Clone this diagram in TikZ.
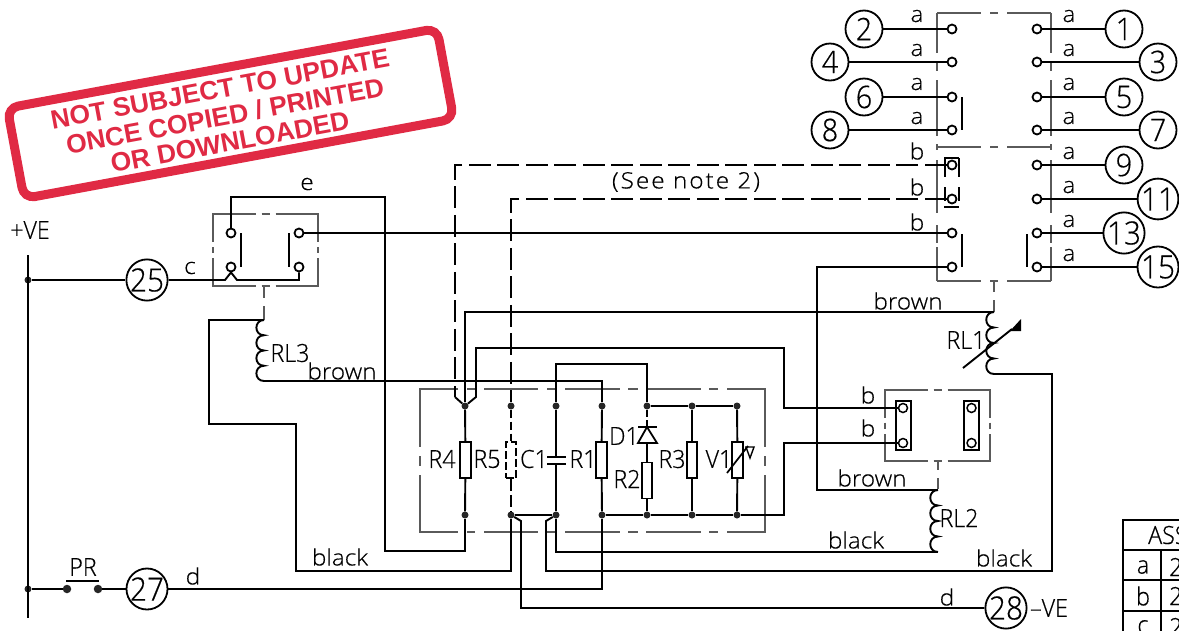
\documentclass[tikz,border=0pt]{standalone}
\usepackage{fontspec}
\setmainfont{Liberation Sans}
\newfontfamily\cad[FakeStretch=0.93,FakeBold=0.5]{Open Sans Light}
\newfontfamily\cadlow[FakeStretch=1.08,FakeBold=0.5]{Open Sans Light}
\newfontfamily\stampfont{Liberation Sans}[BoldFont={Liberation Sans Bold}]
\definecolor{stampred}{HTML}{E02A44}
\definecolor{boxgray}{HTML}{5A5A5A}
\tikzset{
  wire/.style={line width=1.9pt,line join=miter},
  dwire/.style={line width=1.9pt,dash pattern=on 22pt off 6.5pt},
  thinbox/.style={line width=1.1pt,draw=boxgray},
  term/.style={circle,draw,line width=1.8pt,fill=white,minimum size=9pt,inner sep=0pt},
  jun/.style={circle,fill=black!85,draw=none,minimum size=7pt,inner sep=0pt},
  numc/.style={circle,draw,line width=1.8pt,fill=white,minimum size=37pt,inner sep=0pt,font=\cad\fontsize{31}{31}\selectfont},
  nump/.style={numc,font=\cad\fontsize{32}{32}\selectfont},
  res/.style={rectangle,draw,line width=1.8pt,fill=white,minimum width=10.5pt,minimum height=36pt,inner sep=0pt},
  dres/.style={res,dash pattern=on 8pt off 3pt},
  lbl/.style={inner sep=0pt,font=\cad\fontsize{25}{25}\selectfont},
  low/.style={inner sep=0pt,font=\cadlow\fontsize{22.5}{22.5}\selectfont},
  stamptext/.style={inner sep=0pt,text=stampred,rotate=10.5,font=\stampfont\bfseries\fontsize{26.4}{26.4}\selectfont},
  cbar/.style={line width=2pt},
}
% dashed outline: long, gap, short centre dash, gap, long on every side
\newcommand{\dbox}[4]{%
  \draw[thinbox] ({(#1+#3)/2-10},#2) -- (#1,#2) -- (#1,{(#2+#4)/2-8});
  \draw[thinbox] ({(#1+#3)/2+10},#2) -- (#3,#2) -- (#3,{(#2+#4)/2-8});
  \draw[thinbox] ({(#1+#3)/2-10},#4) -- (#1,#4) -- (#1,{(#2+#4)/2+8});
  \draw[thinbox] ({(#1+#3)/2+10},#4) -- (#3,#4) -- (#3,{(#2+#4)/2+8});
  \draw[thinbox] ({(#1+#3)/2-4},#2) -- ({(#1+#3)/2+4},#2);
  \draw[thinbox] ({(#1+#3)/2-4},#4) -- ({(#1+#3)/2+4},#4);
  \draw[thinbox] (#1,{(#2+#4)/2-3}) -- (#1,{(#2+#4)/2+3});
  \draw[thinbox] (#3,{(#2+#4)/2-3}) -- (#3,{(#2+#4)/2+3});}
% coil of four bumps on the left of x=#1 from y=#2, bump height #3
\newcommand{\coilshape}[3]{%
  \draw[wire] (#1,#2)
   \foreach \i in {0,1,2,3}{ .. controls ({#1-1.33*#3/2},{#2+\i*#3}) and ({#1-1.33*#3/2},{#2+(\i+1)*#3}) .. (#1,{#2+(\i+1)*#3}) };}
\begin{document}
\begin{tikzpicture}[x=1pt,y=-1pt]
\useasboundingbox (0,0) rectangle (1179,630);
\clip (0,0) rectangle (1179,630);
\fill[white] (0,0) rectangle (1179,630);

% ---- dashed outlines
\dbox{213}{214}{318}{286}
\dbox{885}{390}{990}{461}
% main box
\foreach \yy in {389,532}{
  \draw[thinbox] (467,\yy) -- (475,\yy) (484,\yy) -- (538,\yy) (547,\yy) -- (557,\yy) (565,\yy) -- (620,\yy) (628,\yy) -- (638,\yy) (646,\yy) -- (701,\yy) (709,\yy) -- (718,\yy);}
\draw[thinbox] (458,389) -- (420,389) -- (420,447) (420,456) -- (420,466) (420,475) -- (420,532) -- (458,532);
\draw[thinbox] (727,389) -- (765,389) -- (765,447) (765,456) -- (765,466) (765,475) -- (765,532) -- (727,532);
% upper right box
\foreach \yy in {13,147,281}{
  \draw[thinbox] (937,\yy) -- (981,\yy) (990,\yy) -- (998,\yy) (1007,\yy) -- (1051,\yy);}
\draw[thinbox] (937,13) -- (937,53) (937,62) -- (937,71) (937,80) -- (937,136) (937,144) -- (937,150) (937,160) -- (937,213) (937,225) -- (937,243) (937,247) -- (937,281);
\draw[thinbox] (1051,13) -- (1051,53) (1051,62) -- (1051,71) (1051,80) -- (1051,136) (1051,144) -- (1051,150) (1051,160) -- (1051,213) (1051,225) -- (1051,243) (1051,247) -- (1051,281);
% relay ticks
\draw[thinbox] (264,287) -- (264,298);
\draw[thinbox] (264,306) -- (264,320);
\draw[thinbox] (938,461) -- (938,470);
\draw[thinbox] (938,478) -- (938,489);
\draw[thinbox] (994,281) -- (994,292);
\draw[thinbox] (994,300) -- (994,312);

% ---- terminals upper right
\foreach \nm/\yy in {1/29,2/62,3/97,4/130,5/165,6/199,7/233,8/267}{
  \node[term] (L\nm) at (952,\yy) {};
  \node[term] (Q\nm) at (1037,\yy) {};}
% numbered circles
\node[numc] (n2) at (864,29) {2};
\node[numc] (n4) at (830,62) {4};
\node[numc] (n6) at (864,97) {6};
\node[numc] (n8) at (830,130) {8};
\node[numc] (n1) at (1124,29) {1};
\node[numc] (n3) at (1158,62) {3};
\node[numc] (n5) at (1124,97) {5};
\node[numc] (n7) at (1158,130) {7};
\node[numc] (n9) at (1124,165) {9};
\node[nump] (n11) at (1158,199) {11};
\node[nump] (n13) at (1124,233) {13};
\node[nump] (n15) at (1158,267) {15};
\node[nump] (n25) at (147,280) {25};
\node[nump] (n27) at (147,589) {27};
\node[nump] (n28) at (1006,608) {28};
\draw[wire] (n2) -- (L1);
\draw[wire] (n4) -- (L2);
\draw[wire] (n6) -- (L3);
\draw[wire] (n8) -- (L4);
\draw[wire] (n1) -- (Q1);
\draw[wire] (n3) -- (Q2);
\draw[wire] (n5) -- (Q3);
\draw[wire] (n7) -- (Q4);
\draw[wire] (n9) -- (Q5);
\draw[wire] (n11) -- (Q6);
\draw[wire] (n13) -- (Q7);
\draw[wire] (n15) -- (Q8);
% contact bars
\draw[cbar] (962,97) -- (962,130);
\draw[cbar] (962,234) -- (962,267);
\draw[cbar] (1027,234) -- (1027,267);
\draw[cbar,line width=1.6pt] (944,158) -- (959,158) (944,207) -- (959,207)
  (945,158) -- (945,177) (959,158) -- (959,177) (945,187) -- (945,201) (959,187) -- (959,201);

% ---- relay RL3 contacts
\node[term] (A1) at (231,233) {};
\node[term] (A2) at (231,267) {};
\node[term] (A3) at (299,233) {};
\node[term] (A4) at (299,267) {};
\draw[cbar] (241,233) -- (241,267);
\draw[cbar] (289,233) -- (289,267);

% ---- relay RL2 contacts
\draw[line width=2pt] (896,401) rectangle (911,450);
\draw[line width=2pt] (964,401) rectangle (979,450);
\node[term,line width=1.5pt] (B1) at (903,408) {};
\node[term,line width=1.5pt] (B2) at (903,443) {};
\node[term,line width=1.5pt] (B3) at (971.5,408) {};
\node[term,line width=1.5pt] (B4) at (971.5,443) {};

% ---- junctions
\foreach \nm/\xx/\yy in {jt4/465/406,jt5/511/406,jtc/556/406,jt1/602/406,jtd/647/406,jt3/692/406,jtv/737/406,
  jb4/465/515,jb5/511/515,jbc/556/515,jb1/602/515,jbd/647/515,jb3/692/515,jbv/737/515,jp1/28/280,jp2/28/589}{
  \node[jun] (\nm) at (\xx,\yy) {};}
\node[jun,minimum size=8.5pt] (pr1) at (67,589) {};
\node[jun,minimum size=8.5pt] (pr2) at (98,589) {};
\coordinate (bt) at (28,255);
\coordinate (bb) at (28,618);
\draw[wire] (bt) -- (bb);
\draw[cbar] (66,581) -- (99,581);
\draw[wire] (jp2) -- (pr1);
\draw[wire] (pr2) -- (n27);

% ---- components
\node[res] (R4) at (465.5,460) {};
\node[dres] (R5) at (511,460) {};
\node[res] (R1) at (601.5,460) {};
\node[res] (R3) at (692,460) {};
\node[res] (V1) at (737.5,460) {};
\node[res] (R2) at (647,480.5) {};
\draw[wire] (jt4) -- (R4);
\draw[wire] (R4) -- (jb4);
\draw[wire] (jt1) -- (R1);
\draw[wire] (R1) -- (jb1);
\draw[wire] (jt3) -- (R3);
\draw[wire] (R3) -- (jb3);
\draw[wire] (jtv) -- (V1);
\draw[wire] (V1) -- (jbv);
\draw[wire] (R2) -- (jbd);
\draw[dwire,dash pattern=on 8pt off 4pt] (jt5) -- (R5);
\draw[dwire,dash pattern=on 12pt off 4pt] (R5) -- (jb5);
% capacitor
\coordinate (capt) at (556,457);
\coordinate (capb) at (556,464);
\draw[wire] (jtc) -- (capt);
\draw[wire] (capb) -- (jbc);
\draw[cbar] (547,457) -- (566,457) (547,464) -- (566,464);
% diode
\coordinate (dtop) at (647,427);
\coordinate (dbot) at (647,443);
\draw[wire] (jtd) -- (647,417);
\draw[wire] (647,420) -- (dtop);
\draw[cbar] (638,427) -- (657,427);
\draw[line width=1.8pt] (dtop) -- (638,443) -- (657,443) -- cycle;
\draw[wire] (dbot) -- (R2);
% varistor slash
\draw[line width=1.7pt] (727,473) -- (748,446);
\draw[line width=1.4pt] (745,447) -- (754,447) -- (750,458) -- (746,447);
% buses
\draw[wire] (jtd) -- (jt3);
\draw[wire] (jt3) -- (jtv);
\draw[wire] (jb1) -- (jbd);
\draw[wire] (jbd) -- (jb3);
\draw[wire] (jb3) -- (jbv);
\draw[wire] (jb5) -- (jbc);

% ---- coils
\coilshape{264}{320}{15.25}
\coilshape{994}{312}{15.5}
\coilshape{938}{490}{15.5}
\coordinate (rl3t) at (264,320);
\coordinate (rl3b) at (264,381);
\coordinate (rl1t) at (994,312);
\coordinate (rl1b) at (994,374);
\coordinate (rl2t) at (938,490);
\coordinate (rl2b) at (938,552);
% RL1 slash
\coordinate (sl1) at (963,368);
\coordinate (sl2) at (1012,329);
\draw[wire] (sl1) -- (sl2);
\fill (1010,331) -- (1021,319) -- (1021,331) -- cycle;

% ---- long wires
\coordinate (a1) at (231,197);
\coordinate (a2) at (385,197);
\coordinate (a3) at (385,551);
\draw[wire] (A1) -- (a1) -- (a2) -- (a3) -- (465,551) -- (jb4);
\draw[wire] (A3) -- (L7);
\coordinate (c1) at (225,280);
\coordinate (c2) at (237,280);
\coordinate (c3) at (299,280);
\draw[wire] (jp1) -- (n25);
\draw[wire] (n25) -- (c1) -- (A2.south) -- (c2) -- (c3) -- (A4);
\draw[wire] (rl3t) -- (209,320) -- (209,424) -- (296,424) -- (296,571) -- (511,571) -- (jb5);
\draw[wire] (rl3b) -- (602,381) -- (jt1);
\draw[wire] (rl1t) -- (465,312) -- (jt4);
\coordinate (f1) at (476,397);
\draw[wire] (jt4) -- (f1) -- (476,348) -- (784,348) -- (784,408) -- (B1);
\draw[wire] (B2) -- (784,443) -- (784,515) -- (jbv);
\draw[wire] (jtd) -- (647,364) -- (556,364) -- (jtc);
\draw[wire] (jbc) -- (556,552) -- (rl2b);
\draw[wire] (jb1) -- (602,589) -- (n27);
\draw[wire] (jb5) -- (521,521) -- (521,608) -- (n28);
\draw[wire] (jbc) -- (546,521) -- (546,571) -- (1052,571) -- (1052,374) -- (rl1b);
\draw[wire] (rl2t) -- (817,490) -- (817,267) -- (L8);
% dashed wires
\draw[dwire] (L5) -- (455,165) -- (455,397);
\draw[wire] (455,397) -- (jt4);
\draw[dwire] (L6) -- (511,199) -- (jt5);

% ---- labels
\foreach \nm/\xx/\yy in {1/917/16,2/917/50,3/917/84,4/917/118,5/1069/16,6/1069/50,7/1069/84,8/1069/118,9/1069/153,10/1069/187,11/1069/221,12/1069/255}{
  \node[low] (la\nm) at (\xx,\yy) {a};}
\foreach \nm/\xx/\yy in {1/917/151,2/917/187,3/917/222,4/868/395,5/868/428}{
  \node[low] (lb\nm) at (\xx,\yy) {b};}
\node[low] (lc) at (190,268) {c};
\node[low] (le) at (307,184) {e};
\node[low] (ld1) at (193,576) {d};
\node[low] (ld2) at (947,597) {d};
\node[low] (br1) at (342,371) {brown};
\node[low] (br2) at (908,301) {brown};
\node[low] (br3) at (872,478) {brown};
\node[low] (bk1) at (340,557) {black};
\node[low] (bk2) at (856,540) {black};
\node[low] (bk3) at (1004,558) {black};
\node[low] (note) at (686,182) {\addfontfeatures{LetterSpace=9}(See note 2)};
\node[lbl] (lR4) at (442,459) {R4};
\node[lbl] (lR5) at (487,459) {R5};
\node[lbl] (lC1) at (534,459) {C1};
\node[lbl] (lR1) at (583,459) {R1};
\node[lbl] (lD1) at (624,436) {D1};
\node[lbl] (lR2) at (627,479) {R2};
\node[lbl] (lR3) at (672,459) {R3};
\node[lbl] (lV1) at (719,459) {V1};
\node[lbl] (lRL1) at (966,340) {RL1};
\node[lbl] (lRL2) at (959,518) {RL2};
\node[lbl] (lRL3) at (290,353) {RL3};
\node[lbl] (lPR) at (83,567) {PR};
\node[lbl] (lpos) at (30,230) {+VE};
\node[lbl] (lneg) at (1049,608) {–VE};

% ---- table (runs off the page)
\draw[line width=1.8pt] (1179,520) -- (1123,520) -- (1123,640);
\draw[line width=1.8pt] (1123,550) -- (1179,550) (1123,580) -- (1179,580) (1123,611) -- (1179,611) (1161,550) -- (1161,640);
\node[lbl,anchor=west] (tA) at (1148,535) {ASS};
\node[lbl] (ta) at (1143,567) {a};
\node[lbl] (tb) at (1143,596) {b};
\node[lbl] (tc) at (1143,627) {c};
\node[lbl,anchor=west] (t2a) at (1169,567) {2};
\node[lbl,anchor=west] (t2b) at (1169,596) {2};
\node[lbl,anchor=west] (t2c) at (1169,627) {2};

% ---- stamp
\node[draw=stampred,line width=9pt,fill=white,rounded corners=11pt,rotate=10.5,minimum width=437pt,minimum height=92pt,inner sep=0pt] (stamp) at (230.5,113.5) {};
\node[stamptext] (s1) at (220,89) {NOT SUBJECT TO UPDATE};
\node[stamptext] (s2) at (225,116) {ONCE COPIED / PRINTED};
\node[stamptext] (s3) at (230,142) {OR DOWNLOADED};
\end{tikzpicture}
\end{document}
